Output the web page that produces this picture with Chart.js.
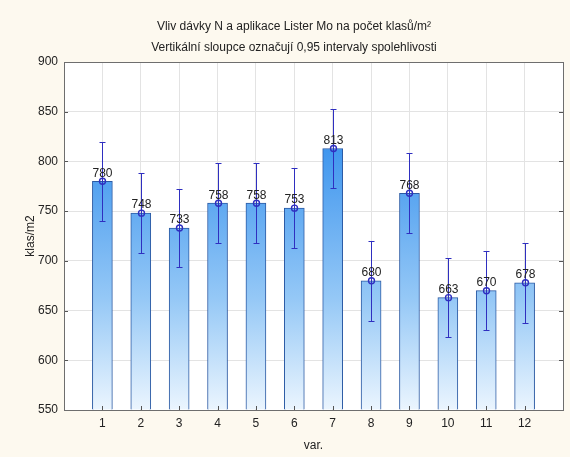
<!DOCTYPE html>
<html>
<head>
<meta charset="utf-8">
<script src="https://cdn.jsdelivr.net/npm/chart.js@4/dist/chart.umd.min.js"></script>
<style>
  html, body { margin: 0; padding: 0; background: #fdf9ef; }
  #wrap { width: 570px; height: 457px; }
</style>
</head>
<body>
<div id="wrap"><canvas id="klasyChart"></canvas></div>
<script>
const variants = [1, 2, 3, 4, 5, 6, 7, 8, 9, 10, 11, 12];
const klasMeans = [780, 748, 733, 758, 758, 753, 813, 680, 768, 663, 670, 678];
// half width of the 0.95 confidence interval
const ciHalf = [40, 40, 39, 40, 40, 40, 40, 40, 40, 40, 40, 40];
const yTicks = [550, 600, 650, 700, 750, 800, 850, 900];
const titleLines = ['Vliv dávky N a aplikace Lister Mo na počet klasů/m²',
                    'Vertikální sloupce označují 0,95 intervaly spolehlivosti'];

const fontFamily = '"Liberation Sans", Arial, sans-serif';
const lineColor = '#2f2fc0';

// one gradient over the whole plot height, so short bars start lighter
function barGradient(context) {
    const chart = context.chart;
    const area = chart.chartArea;
    if (!area) return '#6aaef2';
    const g = chart.ctx.createLinearGradient(0, area.top, 0, area.bottom);
    g.addColorStop(0, '#2586ea');
    g.addColorStop(0.23, '#3c94ee');
    g.addColorStop(0.68, '#95c8f6');
    g.addColorStop(1, '#ebf5fe');
    return g;
}

// error bars, mean markers, value labels and inner tick marks
const errorBarPlugin = {
    id: 'errorBars',
    afterDatasetsDraw(chart) {
        const ctx = chart.ctx;
        const xs = chart.scales.x;
        const ys = chart.scales.y;
        const area = chart.chartArea;
        ctx.save();

        ctx.strokeStyle = '#555';
        ctx.lineWidth = 1;
        yTicks.forEach(t => {
            const y = Math.round(ys.getPixelForValue(t)) + 0.5;
            ctx.beginPath();
            ctx.moveTo(area.left, y); ctx.lineTo(area.left + 4, y);
            ctx.moveTo(area.right, y); ctx.lineTo(area.right - 4, y);
            ctx.stroke();
        });
        variants.forEach(v => {
            const x = Math.round(xs.getPixelForValue(v)) + 0.5;
            ctx.beginPath();
            ctx.moveTo(x, area.bottom); ctx.lineTo(x, area.bottom - 4);
            ctx.stroke();
        });

        ctx.strokeStyle = lineColor;
        ctx.lineWidth = 1;
        variants.forEach((v, i) => {
            const x = Math.round(xs.getPixelForValue(v)) + 0.5;
            const yHi = Math.round(ys.getPixelForValue(klasMeans[i] + ciHalf[i])) + 0.5;
            const yLo = Math.round(ys.getPixelForValue(klasMeans[i] - ciHalf[i])) + 0.5;
            const yM = ys.getPixelForValue(klasMeans[i]);
            ctx.beginPath();
            ctx.moveTo(x, yHi); ctx.lineTo(x, yLo);
            ctx.moveTo(x - 3, yHi); ctx.lineTo(x + 3, yHi);
            ctx.moveTo(x - 3, yLo); ctx.lineTo(x + 3, yLo);
            ctx.stroke();

            ctx.beginPath();
            ctx.arc(x, yM, 3, 0, Math.PI * 2);
            ctx.lineWidth = 1.4;
            ctx.stroke();
            ctx.lineWidth = 1;

            ctx.fillStyle = '#222';
            ctx.font = '12px ' + fontFamily;
            ctx.textAlign = 'center';
            ctx.textBaseline = 'bottom';
            ctx.fillText(String(klasMeans[i]), x, yM - 2);
        });
        ctx.restore();
    }
};

// white plot area, frame and the two title lines
const framePlugin = {
    id: 'frame',
    beforeDraw(chart) {
        const { ctx, chartArea: a } = chart;
        ctx.save();
        ctx.fillStyle = '#ffffff';
        ctx.fillRect(a.left, a.top, a.right - a.left, a.bottom - a.top);
        ctx.restore();
    },
    afterDraw(chart) {
        const { ctx, chartArea: a } = chart;
        ctx.save();
        ctx.strokeStyle = '#6e6e6e';
        ctx.lineWidth = 1;
        ctx.strokeRect(Math.round(a.left) + 0.5, Math.round(a.top) + 0.5,
            Math.round(a.right - a.left), Math.round(a.bottom - a.top));
        ctx.fillStyle = '#222';
        ctx.font = '12px ' + fontFamily;
        ctx.textAlign = 'center';
        ctx.textBaseline = 'middle';
        ctx.fillText(titleLines[0], 294, 27);
        ctx.fillText(titleLines[1], 294, 48);
        ctx.restore();
    }
};

const klasyData = {
    datasets: [{
        type: 'bar',
        data: variants.map((v, i) => ({ x: v, y: klasMeans[i] })),
        backgroundColor: barGradient,
        borderColor: '#2b5aa4',
        borderWidth: 1,
        barThickness: 20,
        base: 550
    }]
};

const klasyConfig = {
    type: 'bar',
    data: klasyData,
    options: {
        responsive: true,
        maintainAspectRatio: false,
        animation: false,
        layout: { padding: { left: 0, right: 7, top: 62, bottom: 0 } },
        plugins: {
            legend: { display: false },
            tooltip: { enabled: false },
            title: { display: false }
        },
        scales: {
            x: {
                type: 'linear',
                min: 0,
                max: 13,
                offset: false,
                afterFit(scale) { scale.height = 47; },
                afterBuildTicks(scale) { scale.ticks = variants.map(v => ({ value: v })); },
                ticks: {
                    color: '#222',
                    font: { family: fontFamily, size: 12 },
                    padding: 6,
                    maxRotation: 0
                },
                grid: { color: '#e3e3e3', drawTicks: false, offset: false },
                border: { color: '#6e6e6e' },
                title: {
                    display: true,
                    text: 'var.',
                    color: '#222',
                    font: { family: fontFamily, size: 12 },
                    padding: { top: 9 }
                }
            },
            y: {
                min: 550,
                max: 900,
                afterFit(scale) { scale.width = 64; },
                afterBuildTicks(scale) { scale.ticks = yTicks.map(v => ({ value: v })); },
                ticks: {
                    color: '#222',
                    font: { family: fontFamily, size: 12 },
                    padding: 6
                },
                grid: { color: '#e3e3e3', drawTicks: false },
                border: { color: '#6e6e6e' },
                title: {
                    display: true,
                    text: 'klas/m2',
                    color: '#222',
                    font: { family: fontFamily, size: 12 },
                    padding: { top: 23, bottom: 0 }
                }
            }
        }
    },
    plugins: [errorBarPlugin, framePlugin]
};

const klasyChart = new Chart(
    document.getElementById('klasyChart'),
    klasyConfig
);
</script>
</body>
</html>
